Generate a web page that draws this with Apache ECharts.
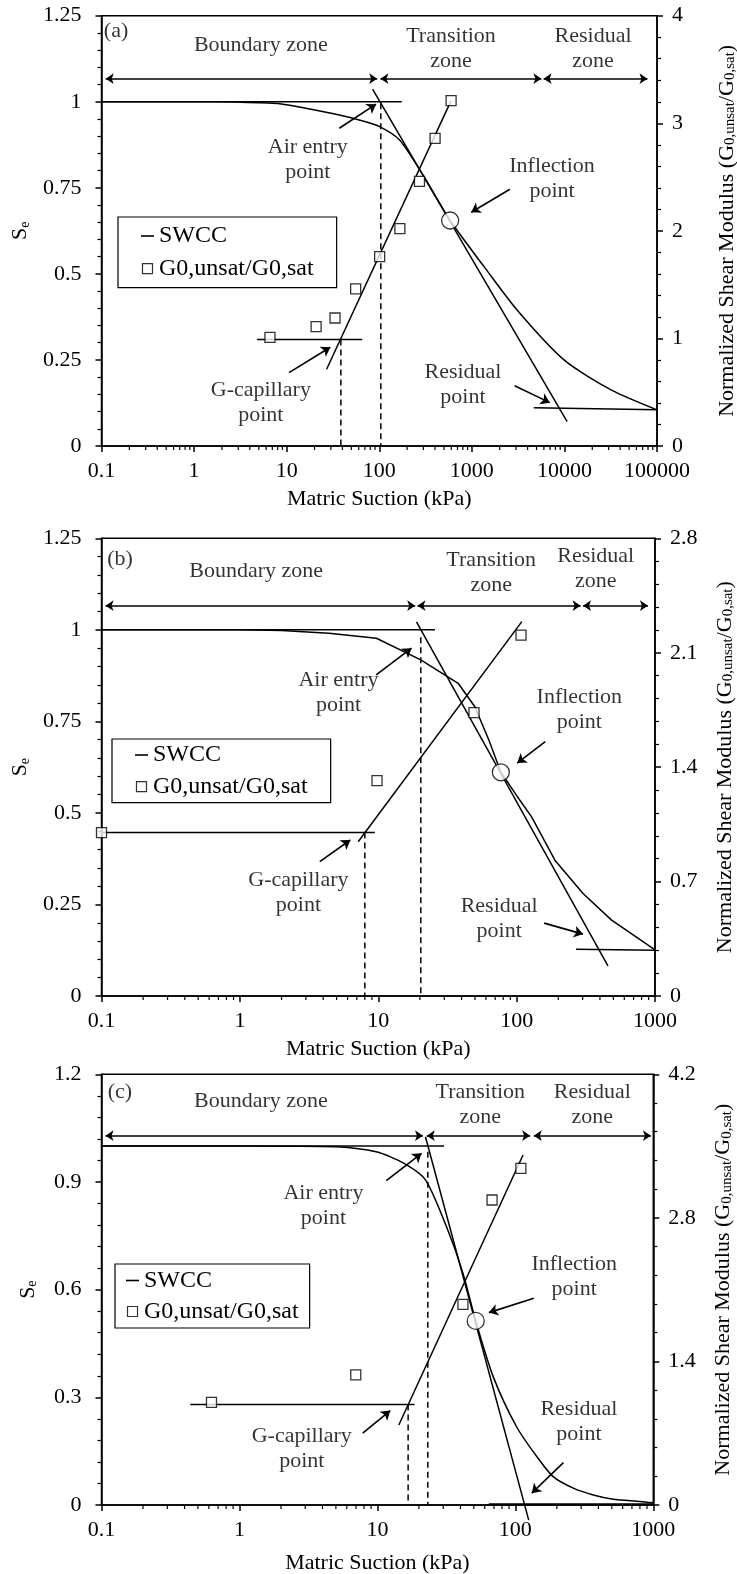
<!DOCTYPE html>
<html><head><meta charset="utf-8">
<script src="https://cdn.jsdelivr.net/npm/echarts@6/dist/echarts.min.js"></script>
<style>html,body{margin:0;padding:0;background:#fff}#c{width:737px;height:1574px}</style>
</head><body><div id="c"></div>
<script>
const FONT = 'Liberation Serif';

// ===== Panel (a) =====
const a_xTicks = [0.1, 1, 10, 100, 1000, 10000, 100000];
const a_seTicks = [0, 0.25, 0.5, 0.75, 1, 1.25];
const a_gTicks = [0, 1, 2, 3, 4];
const a_swccSuction = [0.1, 0.5, 1, 2.8, 8, 16, 36, 65, 101, 166, 300, 583, 1355, 3080, 9900, 31900, 100000];
const a_swccSe = [1, 1, 1, 0.999, 0.995, 0.981, 0.962, 0.945, 0.928, 0.889, 0.785, 0.655, 0.521, 0.395, 0.25, 0.163, 0.105];
const a_gSuction = [6.6, 20.8, 33.3, 55.6, 101, 167, 272, 401, 597];
const a_gRatio = [1.01, 1.11, 1.19, 1.46, 1.76, 2.02, 2.46, 2.86, 3.21];
const a_inflection = [583, 0.655];
const a_seTopLine = [[0.1, 1], [175, 1]];
const a_swccTangent = [[84.7, 1.037], [10700, 0.071]];
const a_residualLine = [[4660, 0.111], [100000, 0.105]];
const a_airEntryDash = [[104, 0.996], [104, 0]];
const a_gFlatLine = [[4.8, 0.99], [65.5, 0.99]];
const a_gTangent = [[27, 0.713], [597, 3.21]];
const a_gCapDash = [[38.5, 0.99], [38.5, 0]];
const a_zoneSe = 1.067;
const a_zones = [[0.111, 95], [103, 5640], [5960, 78900]];

// ===== Panel (b) =====
const b_xTicks = [0.1, 1, 10, 100, 1000];
const b_seTicks = [0, 0.25, 0.5, 0.75, 1, 1.25];
const b_gTicks = [0, 0.7, 1.4, 2.1, 2.8];
const b_swccSuction = [0.1, 1, 2, 4.4, 9.7, 20.3, 37.8, 49.9, 63, 76.9, 101, 128, 189, 302, 483, 1000];
const b_swccSe = [1, 1, 0.998, 0.991, 0.977, 0.918, 0.854, 0.79, 0.699, 0.611, 0.545, 0.49, 0.371, 0.28, 0.208, 0.126];
const b_gSuction = [0.1, 9.8, 49.2, 107.6];
const b_gRatio = [1.0, 1.317, 1.733, 2.208];
const b_inflection = [76.9, 0.611];
const b_seTopLine = [[0.1, 1], [25.7, 1]];
const b_swccTangent = [[18.9, 1.022], [457, 0.082]];
const b_residualLine = [[269, 0.128], [1000, 0.125]];
const b_airEntryDash = [[20.3, 0.98], [20.3, 0]];
const b_gFlatLine = [[0.1, 1.0], [9.45, 1.0]];
const b_gTangent = [[7.16, 0.944], [109, 2.29]];
const b_gCapDash = [[8.0, 1.0], [8.0, 0]];
const b_zoneSe = 1.066;
const b_zones = [[0.107, 18.5], [19.2, 290], [302, 889]];

// ===== Panel (c) =====
const c_xTicks = [0.1, 1, 10, 100, 1000];
const c_seTicks = [0, 0.3, 0.6, 0.9, 1.2];
const c_gTicks = [0, 1.4, 2.8, 4.2];
const c_swccSuction = [0.1, 1, 5, 9.8, 15.6, 22.3, 31.7, 41.7, 51.6, 69.2, 102, 143, 188, 263, 367, 513, 800, 1000];
const c_swccSe = [1, 1, 0.998, 0.984, 0.952, 0.906, 0.775, 0.646, 0.513, 0.357, 0.218, 0.135, 0.079, 0.047, 0.028, 0.016, 0.01, 0.006];
const c_gSuction = [0.627, 6.97, 41.7, 67.8, 109.6];
const c_gRatio = [1.0, 1.268, 1.957, 2.974, 3.283];
const c_inflection = [51.6, 0.513];
const c_seTopLine = [[0.1, 1], [30.4, 1]];
const c_swccTangent = [[22.3, 1.026], [125, -0.042]];
const c_residualLine = [[64.3, 0.003], [1000, 0.003]];
const c_airEntryDash = [[23.2, 0.984], [23.2, 0]];
const c_gFlatLine = [[0.44, 0.98], [18.6, 0.98]];
const c_gTangent = [[14.3, 0.78], [113.7, 3.413]];
const c_gCapDash = [[16.7, 0.98], [16.7, 0]];
const c_zoneSe = 1.029;
const c_zones = [[0.107, 21.4], [22.8, 128], [136, 961]];

// log-axis minor tick multipliers
const minorMultipliers = [2, 3, 4, 5, 6, 7, 8, 9];

// annotation texts (text, suction, Se) and arrows (tail -> head)
const a_texts = [['(a)', 0.1436, 1.204], ['Boundary zone', 5.26, 1.165], ['Transition\nzone', 596, 1.153], ['Residual\nzone', 20370, 1.153],
  ['Air entry\npoint', 16.9, 0.833], ['Inflection\npoint', 7350, 0.775], ['G-capillary\npoint', 5.26, 0.126], ['Residual\npoint', 802, 0.177]];
const a_arrows = [[[37, 0.923], [92.3, 0.993]], [[2577, 0.746], [986, 0.679]], [[10.6, 0.213], [29.6, 0.287]], [[2898, 0.175], [6950, 0.126]]];
const b_texts = [['(b)', 0.136, 1.193], ['Boundary zone', 1.31, 1.159], ['Transition\nzone', 65.5, 1.157], ['Residual\nzone', 373, 1.168],
  ['Air entry\npoint', 5.16, 0.827], ['Inflection\npoint', 284, 0.781], ['G-capillary\npoint', 2.65, 0.283], ['Residual\npoint', 74.8, 0.212]];
const b_arrows = [[[9.66, 0.877], [17.4, 0.95]], [[161, 0.695], [101, 0.636]], [[3.78, 0.367], [6.28, 0.426]], [[158, 0.199], [302, 0.169]]];
const c_texts = [['(c)', 0.136, 1.149], ['Boundary zone', 1.43, 1.124], ['Transition\nzone', 55.7, 1.114], ['Residual\nzone', 361, 1.114],
  ['Air entry\npoint', 4.06, 0.834], ['Inflection\npoint', 267, 0.636], ['G-capillary\npoint', 2.83, 0.156], ['Residual\npoint', 289, 0.232]];
const c_arrows = [[[11.6, 0.904], [20.9, 0.98]], [[136, 0.576], [64.3, 0.536]], [[7.83, 0.2], [12.4, 0.263]], [[223, 0.118], [131.5, 0.033]]];

const panels = [
  { grid: {left: 101.5, top: 15.7, width: 555.5, height: 430.3}, xNameGap: 42,
    legend: {left: 118, top: 217, padding: [7, 23, 7, 23], gap: 8.6}, smooth: true,
    xT: a_xTicks, seT: a_seTicks, gT: a_gTicks, swcc: [a_swccSuction, a_swccSe], g: [a_gSuction, a_gRatio], infl: a_inflection,
    seTop: a_seTopLine, tan: a_swccTangent, res: a_residualLine, aeDash: a_airEntryDash, gFlat: a_gFlatLine, gTan: a_gTangent, gDash: a_gCapDash,
    zoneSe: a_zoneSe, zones: a_zones, texts: a_texts, arrows: a_arrows },
  { grid: {left: 101.5, top: 538.3, width: 553.5, height: 457.7}, xNameGap: 42,
    legend: {left: 112, top: 739, padding: [4, 23, 4, 23], gap: 7.6}, smooth: false,
    xT: b_xTicks, seT: b_seTicks, gT: b_gTicks, swcc: [b_swccSuction, b_swccSe], g: [b_gSuction, b_gRatio], infl: b_inflection,
    seTop: b_seTopLine, tan: b_swccTangent, res: b_residualLine, aeDash: b_airEntryDash, gFlat: b_gFlatLine, gTan: b_gTangent, gDash: b_gCapDash,
    zoneSe: b_zoneSe, zones: b_zones, texts: b_texts, arrows: b_arrows },
  { grid: {left: 101.5, top: 1074.3, width: 551.8, height: 430.7}, xNameGap: 47,
    legend: {left: 115, top: 1264, padding: [4.5, 11, 4.5, 11], gap: 7}, smooth: true,
    xT: c_xTicks, seT: c_seTicks, gT: c_gTicks, swcc: [c_swccSuction, c_swccSe], g: [c_gSuction, c_gRatio], infl: c_inflection,
    seTop: c_seTopLine, tan: c_swccTangent, res: c_residualLine, aeDash: c_airEntryDash, gFlat: c_gFlatLine, gTan: c_gTangent, gDash: c_gCapDash,
    zoneSe: c_zoneSe, zones: c_zones, texts: c_texts, arrows: c_arrows }
];

const BLACK = '#000';
const txt = (size) => ({fontFamily: FONT, fontSize: size, color: BLACK});
const zip = (xs, ys) => xs.map((x, k) => [x, ys[k]]);
const option = {animation: false, backgroundColor: '#fff', textStyle: {fontFamily: FONT, color: BLACK},
  grid: [], xAxis: [], yAxis: [], legend: [], series: []};

panels.forEach((p, i) => {
  const L = 2 * i, R = 2 * i + 1;
  option.grid.push(Object.assign({show: true, borderColor: BLACK, borderWidth: 1.5, backgroundColor: 'transparent',
    containLabel: false, outerBoundsMode: 'none'}, p.grid));
  option.xAxis.push({type: 'log', logBase: 10, gridIndex: i, min: p.xT[0], max: p.xT[p.xT.length - 1],
    name: 'Matric Suction (kPa)', nameLocation: 'middle', nameGap: p.xNameGap, nameTextStyle: txt(22),
    axisLine: {onZero: false, lineStyle: {color: BLACK, width: 1.5}},
    axisTick: {length: 6, lineStyle: {color: BLACK, width: 1.5}},
    axisLabel: Object.assign(txt(22), {margin: 14, formatter: v => String(+(+v).toPrecision(6))}),
    splitLine: {show: false}});
  const seStep = +(p.seT[1] - p.seT[0]).toFixed(6), gStep = +(p.gT[1] - p.gT[0]).toFixed(6);
  option.yAxis.push({type: 'value', gridIndex: i, position: 'left', min: p.seT[0], max: p.seT[p.seT.length - 1], interval: seStep,
    name: '{s|S}{e|e}', nameLocation: 'middle', nameRotate: 90, nameGap: 62,
    nameTextStyle: Object.assign(txt(22), {rich: {s: txt(22), e: Object.assign(txt(14), {padding: [9, 0, 0, 0]})}}),
    axisLine: {show: true, lineStyle: {color: BLACK, width: 1.5}},
    axisTick: {length: 6, lineStyle: {color: BLACK, width: 1.5}},
    minorTick: {show: true, splitNumber: 5, length: 4, lineStyle: {color: BLACK, width: 1.2}},
    axisLabel: Object.assign(txt(22), {margin: 20}), splitLine: {show: false}});
  option.yAxis.push({type: 'value', gridIndex: i, position: 'right', min: p.gT[0], max: p.gT[p.gT.length - 1], interval: gStep,
    name: 'Normalized Shear Modulus (G{s|0,unsat}/G{s|0,sat})', nameLocation: 'middle', nameRotate: 90, nameGap: 59,
    nameTextStyle: Object.assign(txt(22), {rich: {s: Object.assign(txt(15), {padding: [7, 0, 0, 0]})}}),
    axisLine: {show: true, lineStyle: {color: BLACK, width: 1.5}},
    axisTick: {length: 6, lineStyle: {color: BLACK, width: 1.5}},
    minorTick: {show: true, splitNumber: 5, length: 4, lineStyle: {color: BLACK, width: 1.2}},
    axisLabel: Object.assign(txt(22), {margin: 15}), splitLine: {show: false}});

  option.legend.push({left: p.legend.left, top: p.legend.top, padding: p.legend.padding, orient: 'vertical',
    data: [
      {name: 'SWCC', icon: 'path://M0,0h13v1.6h-13z', itemStyle: {color: BLACK, borderWidth: 0}},
      {name: 'G0,unsat/G0,sat', icon: 'path://M0,0h10v10h-10z', itemStyle: {color: '#fff', borderColor: BLACK, borderWidth: 1.2}}
    ],
    symbolKeepAspect: true,
    borderColor: BLACK, borderWidth: 1.2, itemGap: p.legend.gap, itemWidth: 13, itemHeight: 10,
    selectedMode: false, textStyle: txt(24), backgroundColor: '#fff'});

  const lineS = (name, data, yIdx, extra) => Object.assign({type: 'line', name, xAxisIndex: i, yAxisIndex: yIdx, data,
    symbol: 'none', silent: true, lineStyle: {color: BLACK, width: 1.5}, z: 3}, extra || {});
  option.series.push(lineS('SWCC', zip(p.swcc[0], p.swcc[1]), L, {smooth: p.smooth ? 0.25 : false, itemStyle: {color: BLACK}}));
  option.series.push(lineS('seTop' + i, p.seTop, L));
  option.series.push(lineS('tan' + i, p.tan, L, {clip: false}));
  option.series.push(lineS('res' + i, p.res, L));
  option.series.push(lineS('aeDash' + i, p.aeDash, L, {lineStyle: {color: BLACK, width: 1.5, type: [6, 4]}}));
  option.series.push(lineS('gFlat' + i, p.gFlat, R));
  option.series.push(lineS('gTan' + i, p.gTan, R));
  option.series.push(lineS('gDash' + i, p.gDash, R, {lineStyle: {color: BLACK, width: 1.5, type: [6, 4]}}));
  option.series.push({type: 'scatter', name: 'G0,unsat/G0,sat', xAxisIndex: i, yAxisIndex: R, data: zip(p.g[0], p.g[1]),
    symbol: 'rect', symbolSize: 10, clip: false, silent: true, z: 5,
    itemStyle: {color: '#fff', borderColor: BLACK, borderWidth: 1.3}});
  option.series.push({type: 'scatter', name: 'infl' + i, xAxisIndex: i, yAxisIndex: L, data: [p.infl],
    symbol: 'circle', symbolSize: 17, silent: true, z: 6, itemStyle: {color: '#fff', borderColor: BLACK, borderWidth: 1.3}});
  // zone arrows
  option.series.push({type: 'line', name: 'zones' + i, xAxisIndex: i, yAxisIndex: L, data: [], silent: true,
    markLine: {silent: true, symbol: ['arrow', 'arrow'], symbolSize: 8, label: {show: false},
      lineStyle: {color: BLACK, width: 1.6, type: 'solid'},
      data: p.zones.map(z => [{coord: [z[0], p.zoneSe]}, {coord: [z[1], p.zoneSe]}])}});
  // annotation arrows
  option.series.push({type: 'line', name: 'arrows' + i, xAxisIndex: i, yAxisIndex: L, data: [], silent: true,
    markLine: {silent: true, symbol: ['none', 'arrow'], symbolSize: 9, label: {show: false},
      lineStyle: {color: BLACK, width: 1.6, type: 'solid'},
      data: p.arrows.map(a => [{coord: a[0]}, {coord: a[1]}])}});
  // annotation labels
  option.series.push({type: 'scatter', name: 'labels' + i, xAxisIndex: i, yAxisIndex: L, silent: true, z: 7,
    symbolSize: 1, itemStyle: {color: 'rgba(0,0,0,0)'},
    label: Object.assign(txt(22), {show: true, position: 'inside', lineHeight: 25, align: 'center', verticalAlign: 'middle'}),
    data: p.texts.map(t => ({value: [t[1], t[2]], label: {formatter: t[0]}}))});
  // log minor ticks on x axis
  const minor = [];
  for (let e = Math.round(Math.log10(p.xT[0])); e < Math.round(Math.log10(p.xT[p.xT.length - 1])); e++) {
    minorMultipliers.forEach(m => minor.push([+(m * Math.pow(10, e)).toPrecision(6), p.seT[0]]));
  }
  option.series.push({type: 'custom', name: 'minor' + i, xAxisIndex: i, yAxisIndex: L, silent: true, data: minor,
    renderItem: (params, api) => {
      const pt = api.coord([api.value(0), api.value(1)]);
      return {type: 'line', shape: {x1: pt[0], y1: pt[1], x2: pt[0], y2: pt[1] + 4}, style: {stroke: BLACK, lineWidth: 1.2}};
    }});
});

const chart = echarts.init(document.getElementById('c'), null, {renderer: 'canvas'});
chart.setOption(option);
</script></body></html>
